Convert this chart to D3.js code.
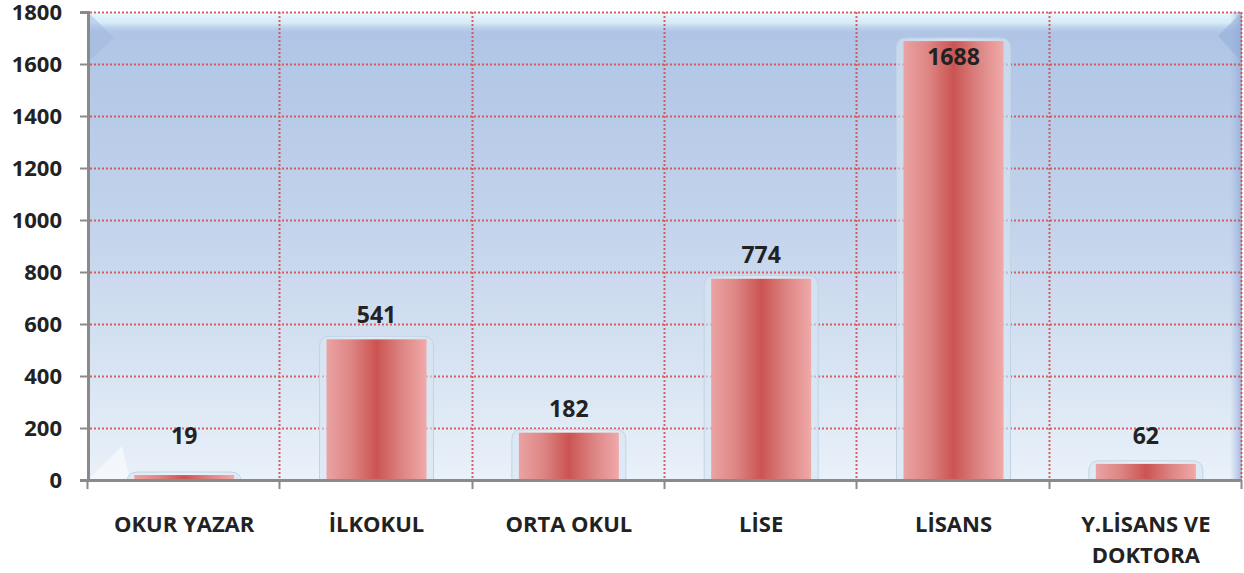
<!DOCTYPE html>
<html>
<head>
<meta charset="utf-8">
<script src="https://cdn.jsdelivr.net/npm/d3@7"></script>
<style>
  body { margin: 0; background: #ffffff; }
  svg { display: block; }
</style>
</head>
<body>
<script>
// Datos del gráfico
var categorias = ["OKUR YAZAR", "İLKOKUL", "ORTA OKUL", "LİSE", "LİSANS", "Y.LİSANS VE DOKTORA"];
var valores = [19, 541, 182, 774, 1688, 62];
var ticksY = [0, 200, 400, 600, 800, 1000, 1200, 1400, 1600, 1800];

var ancho = 1244, alto = 573;
var margen = { top: 12, right: 2, bottom: 93, left: 88 };

var svg = d3.select("body").append("svg")
            .attr("width", ancho)
            .attr("height", alto);

var x = d3.scaleBand()
          .domain(categorias)
          .range([margen.left, ancho - margen.right])
          .paddingInner(0.48)
          .paddingOuter(0.24);

var y = d3.scaleLinear()
          .domain([0, 1800])
          .range([alto - margen.bottom, margen.top]);

var x0 = margen.left, x1 = ancho - margen.right;
var y0 = y(0), y1 = y(1800);

var defs = svg.append("defs");

// Fondo azul del área de trazado
var gFondo = defs.append("linearGradient").attr("id", "fondo")
    .attr("x1", 0).attr("y1", 0).attr("x2", 0).attr("y2", 1);
gFondo.append("stop").attr("offset", "0%").attr("stop-color", "#aec3e5");
gFondo.append("stop").attr("offset", "45%").attr("stop-color", "#c2d3eb");
gFondo.append("stop").attr("offset", "100%").attr("stop-color", "#e9f1f9");

var gTecho = defs.append("linearGradient").attr("id", "techo")
    .attr("x1", 0).attr("y1", 0).attr("x2", 0).attr("y2", 1);
gTecho.append("stop").attr("offset", "0%").attr("stop-color", "#eef8fd");
gTecho.append("stop").attr("offset", "50%").attr("stop-color", "#d4ebf7");
gTecho.append("stop").attr("offset", "100%").attr("stop-color", "#b4c8e7").attr("stop-opacity", 0);

var gLado = defs.append("linearGradient").attr("id", "lado")
    .attr("x1", 0).attr("y1", 0).attr("x2", 1).attr("y2", 0);
gLado.append("stop").attr("offset", "0%").attr("stop-color", "#9fb6de").attr("stop-opacity", 0);
gLado.append("stop").attr("offset", "100%").attr("stop-color", "#8fa8d6").attr("stop-opacity", 0.8);

// Degradado de las barras (rojo en el centro, rosa en los bordes)
var gBarra = defs.append("linearGradient").attr("id", "barra")
    .attr("x1", 0).attr("y1", 0).attr("x2", 1).attr("y2", 0);
gBarra.append("stop").attr("offset", "0%").attr("stop-color", "#eaa3a3");
gBarra.append("stop").attr("offset", "25%").attr("stop-color", "#dd8584");
gBarra.append("stop").attr("offset", "50%").attr("stop-color", "#cb5451");
gBarra.append("stop").attr("offset", "75%").attr("stop-color", "#dc8483");
gBarra.append("stop").attr("offset", "100%").attr("stop-color", "#f0a9a9");

var gHalo = defs.append("linearGradient").attr("id", "halo")
    .attr("x1", 0).attr("y1", 0).attr("x2", 1).attr("y2", 0);
gHalo.append("stop").attr("offset", "0%").attr("stop-color", "#d6e4f1");
gHalo.append("stop").attr("offset", "50%").attr("stop-color", "#eef4fa");
gHalo.append("stop").attr("offset", "100%").attr("stop-color", "#d6e4f1");

svg.append("rect")
   .attr("x", x0).attr("y", y1)
   .attr("width", x1 - x0).attr("height", y0 - y1)
   .attr("fill", "url(#fondo)");

svg.append("rect")
   .attr("x", x0).attr("y", y1)
   .attr("width", x1 - x0).attr("height", 22)
   .attr("fill", "url(#techo)");

svg.append("rect")
   .attr("x", x1 - 12).attr("y", y1)
   .attr("width", 12).attr("height", y0 - y1)
   .attr("fill", "url(#lado)");

// Esquinas en bisel
svg.append("path")
   .attr("d", "M" + x0 + "," + y1 + " L" + (x0 + 26) + "," + (y1 + 26) + " L" + x0 + "," + (y1 + 50) + "Z")
   .attr("fill", "#9db5de").attr("opacity", 0.45);
svg.append("path")
   .attr("d", "M" + x1 + "," + y1 + " L" + (x1 - 24) + "," + (y1 + 24) + " L" + x1 + "," + (y1 + 50) + "Z")
   .attr("fill", "#8fa9d7").attr("opacity", 0.5);
svg.append("path")
   .attr("d", "M" + x0 + "," + y0 + " L" + (x0 + 34) + "," + (y0 - 34) + " L" + (x0 + 42) + "," + y0 + "Z")
   .attr("fill", "#ffffff").attr("opacity", 0.5);

// Líneas de cuadrícula punteadas
var rejilla = svg.append("g").attr("stroke", "#d24a4a").attr("stroke-width", 2)
                 .attr("stroke-dasharray", "2,2").attr("opacity", 0.85);
ticksY.filter(function(d) { return d > 0; }).forEach(function(d) {
    rejilla.append("line")
           .attr("x1", x0 + 2).attr("x2", x1)
           .attr("y1", Math.round(y(d)) + 0.5).attr("y2", Math.round(y(d)) + 0.5);
});
for (var i = 1; i <= categorias.length; i++) {
    var gx = Math.round(x0 + x.step() * i) - 0.5;
    rejilla.append("line")
           .attr("x1", gx).attr("x2", gx)
           .attr("y1", y1).attr("y2", y0);
}

// Barras con halo de vidrio
var barras = svg.selectAll("g.barra")
    .data(valores)
    .enter().append("g")
    .attr("class", "barra");

barras.append("path")
      .attr("d", function(d, i) {
          var bx = x(categorias[i]) - 7, bw = x.bandwidth() + 14;
          var by = y(d) - 3, r = 10;
          return "M" + bx + "," + y0 +
                 " L" + bx + "," + (by + r) +
                 " Q" + bx + "," + by + " " + (bx + r) + "," + by +
                 " L" + (bx + bw - r) + "," + by +
                 " Q" + (bx + bw) + "," + by + " " + (bx + bw) + "," + (by + r) +
                 " L" + (bx + bw) + "," + y0 + "Z";
      })
      .attr("fill", "url(#halo)")
      .attr("fill-opacity", 0.6)
      .attr("stroke", "#c3d3e6")
      .attr("stroke-width", 1);

barras.append("rect")
      .attr("x", function(d, i) { return x(categorias[i]); })
      .attr("y", function(d) { return y(d); })
      .attr("width", x.bandwidth())
      .attr("height", function(d) { return y0 - y(d); })
      .attr("fill", "url(#barra)");

// Eje Y
var ejeY = svg.append("g")
    .attr("transform", "translate(" + x0 + ",0)")
    .call(d3.axisLeft(y).tickValues(ticksY).tickFormat(d3.format("d")).tickSize(8).tickPadding(18));
ejeY.select(".domain").attr("stroke", "#8a8a8a").attr("stroke-width", 3);
ejeY.selectAll(".tick line").attr("stroke", "#8a8a8a").attr("stroke-width", 2);
ejeY.selectAll(".tick text")
    .attr("font-family", "'Open Sans', sans-serif")
    .attr("font-weight", "bold")
    .attr("font-size", "22px")
    .attr("fill", "#222222");

// Eje X
svg.append("line")
   .attr("x1", x0 - 8).attr("x2", x1)
   .attr("y1", y0 + 0.5).attr("y2", y0 + 0.5)
   .attr("stroke", "#8a8a8a").attr("stroke-width", 3);
for (var k = 0; k <= categorias.length; k++) {
    var tx = Math.round(x0 + x.step() * k) - 0.5;
    svg.append("line")
       .attr("x1", tx).attr("x2", tx)
       .attr("y1", y0).attr("y2", y0 + 9)
       .attr("stroke", "#8a8a8a").attr("stroke-width", 2);
}

// Etiquetas de categoría (con salto de línea si hace falta)
var etiquetas = svg.selectAll("text.cat")
    .data(categorias)
    .enter().append("text")
    .attr("class", "cat")
    .attr("x", function(d) { return x(d) + x.bandwidth() / 2; })
    .attr("y", 532)
    .attr("text-anchor", "middle")
    .attr("font-family", "'Open Sans', sans-serif")
    .attr("font-weight", "bold")
    .attr("font-size", "22px")
    .attr("fill", "#222222");

etiquetas.each(function(d) {
    var partes = d === "Y.LİSANS VE DOKTORA" ? ["Y.LİSANS VE", "DOKTORA"] : [d];
    var t = d3.select(this);
    partes.forEach(function(p, j) {
        t.append("tspan")
         .attr("x", x(d) + x.bandwidth() / 2)
         .attr("dy", j === 0 ? 0 : 31)
         .text(p);
    });
});

// Etiquetas de valores
svg.selectAll("text.valor")
   .data(valores)
   .enter().append("text")
   .attr("class", "valor")
   .attr("x", function(d, i) { return x(categorias[i]) + x.bandwidth() / 2; })
   .attr("y", function(d) {
       var yy = y(d) - 16;
       if (yy < y1 + 30) return y(d) + 24;
       return Math.min(yy, 444);
   })
   .attr("text-anchor", "middle")
   .attr("font-family", "'Open Sans', sans-serif")
   .attr("font-weight", "bold")
   .attr("font-size", "23px")
   .attr("fill", "#222222")
   .text(function(d) { return d; });
</script>
</body>
</html>
